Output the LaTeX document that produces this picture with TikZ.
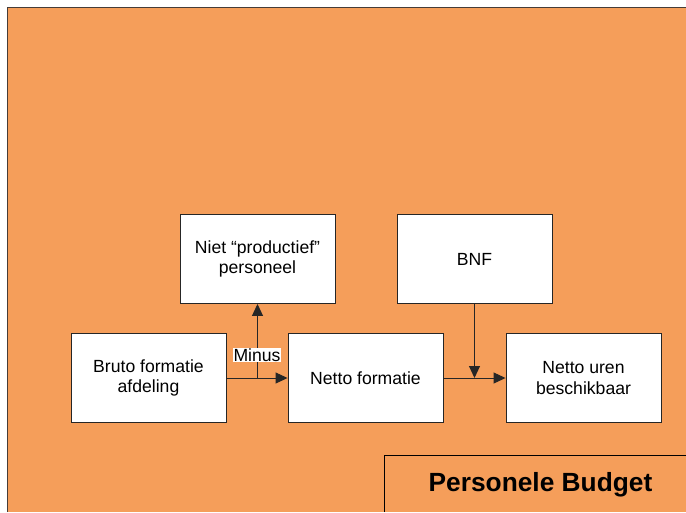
\documentclass[tikz,border=0pt]{standalone}
\usepackage{fontspec}
\setmainfont{Liberation Sans}
\usetikzlibrary{arrows.meta}
\definecolor{bgorange}{RGB}{245,158,90}
\definecolor{edgegray}{RGB}{70,60,55}
\tikzset{
  procbox/.style={draw=black!85, line width=0.9pt, fill=white, align=center,
    font=\fontsize{17.6}{20.5}\selectfont},
  flow/.style={draw=black!85, line width=1pt, -{Triangle[width=11pt,length=12pt]}},
}
\begin{document}
\begin{tikzpicture}[x=1pt,y=-1pt]
\useasboundingbox (0,0) rectangle (686,512);
\fill[white] (0,0) rectangle (686,512);
\fill[bgorange] (7.5,7.5) rectangle (686,512);
\draw[edgegray, line width=1.6pt] (7.5,512) -- (7.5,7.5) -- (686,7.5);
% boxes
\node[procbox, minimum width=155pt, minimum height=89pt] (niet) at (257.5,259) {Niet “productief”\\personeel};
\node[procbox, minimum width=155pt, minimum height=89pt] (bnf) at (474.5,259) {BNF};
\node[procbox, minimum width=155pt, minimum height=89pt] (bruto) at (148.5,378) {Bruto formatie\\afdeling};
\node[procbox, minimum width=155pt, minimum height=89pt] (netto) at (365.5,378) {Netto formatie};
\node[procbox, minimum width=155pt, minimum height=89pt] (uren) at (583.5,378) {Netto uren\\beschikbaar};
% personele budget
\draw[black, line width=1.5pt] (384.5,512) -- (384.5,455.5) -- (686,455.5);
\node[font=\fontsize{26.3}{30}\selectfont\bfseries] (pb) at (540.5,485) {Personele Budget};
% connectors
\coordinate (j1) at (257.5,378);
\coordinate (j2) at (474.5,378);
\draw[flow] (bruto.east) -- (netto.west);
\draw[flow] (j1) -- (niet.south);
\draw[flow] (netto.east) -- (uren.west);
\draw[flow] (bnf.south) -- (j2);
\node[fill=white, inner sep=1pt, font=\fontsize{17.6}{20}\selectfont] (minus) at (257,355) {Minus};
\end{tikzpicture}
\end{document}
